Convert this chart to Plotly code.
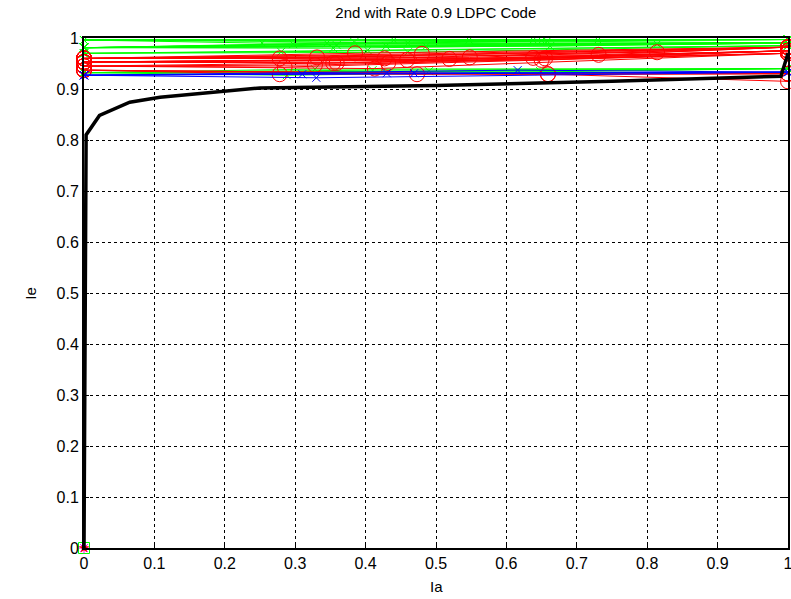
import plotly.graph_objects as go

# Decoder transfer curve (thick black)
curve_ia = [0.0, 0.003, 0.022, 0.065, 0.108, 0.25, 0.5, 0.75, 0.99, 1.0]
curve_ie = [0.0, 0.81, 0.848, 0.874, 0.884, 0.902, 0.907, 0.915, 0.925, 0.97]

# Green trajectories: start Ie at Ia=0, middle point, end Ie at Ia=1
green_start = [0.996] * 7 + [0.981] * 10 + [0.970] * 3 + [0.932] * 5
green_mid_x = [0.253, 0.384, 0.44, 0.547, 0.638, 0.65, 0.73,
               0.297, 0.345, 0.359, 0.429, 0.46, 0.486, 0.658, 0.662, 0.814, 0.354,
               0.28, 0.403, 0.46,
               0.288, 0.328, 0.41, 0.49, 0.648]
green_mid_y = [0.99, 0.992, 0.996, 0.996, 0.996, 0.995, 0.996,
               0.988, 0.99, 0.986, 0.984, 0.99, 0.984, 0.994, 0.984, 0.988, 0.98,
               0.973, 0.976, 0.972,
               0.927, 0.939, 0.937, 0.935, 0.935]
green_end = [0.997] * 7 + [0.99] * 10 + [0.985] * 3 + [0.94] * 5

# Red trajectories
red_start = [0.96] * 8 + [0.953] * 7 + [0.945] * 4 + [0.937] * 4
red_mid_x = [0.278, 0.331, 0.385, 0.427, 0.48, 0.548, 0.731, 0.814,
             0.354, 0.459, 0.519, 0.638, 0.65, 0.655, 0.432,
             0.285, 0.328, 0.359, 0.413,
             0.278, 0.473, 0.659, 0.659]
red_mid_y = [0.96, 0.962, 0.97, 0.96, 0.969, 0.962, 0.967, 0.972,
             0.951, 0.957, 0.959, 0.961, 0.957, 0.96, 0.951,
             0.943, 0.947, 0.951, 0.94,
             0.929, 0.929, 0.929, 0.929]
red_end = [0.982] * 8 + [0.975] * 7 + [0.97] * 4 + [0.93, 0.93, 0.93, 0.915]

# Blue trajectories
blue_start = [0.927] * 5
blue_mid_x = [0.31, 0.33, 0.43, 0.469, 0.616]
blue_mid_y = [0.929, 0.922, 0.931, 0.931, 0.937]
blue_end = [0.933] * 5


def polylines(starts, mid_x, mid_y, ends):
    xs, ys = [], []
    for s, mx, my, e in zip(starts, mid_x, mid_y, ends):
        xs += [0.0, mx, 1.0, None]
        ys += [s, my, e, None]
    return xs, ys


fig = go.Figure()

gx, gy = polylines(green_start, green_mid_x, green_mid_y, green_end)
fig.add_trace(go.Scatter(x=gx, y=gy, mode="lines+markers", cliponaxis=False,
                         line=dict(color="#00ff00", width=1),
                         marker=dict(symbol="x-thin-open", size=8,
                                     line=dict(color="#00ff00", width=1))))

rx, ry = polylines(red_start, red_mid_x, red_mid_y, red_end)
fig.add_trace(go.Scatter(x=rx, y=ry, mode="lines+markers", cliponaxis=False,
                         line=dict(color="#ff0000", width=1),
                         marker=dict(symbol="circle-open", size=15,
                                     color="#ff0000", line=dict(width=1))))

bx, by = polylines(blue_start, blue_mid_x, blue_mid_y, blue_end)
fig.add_trace(go.Scatter(x=bx, y=by, mode="lines+markers", cliponaxis=False,
                         line=dict(color="#0000ff", width=1),
                         marker=dict(symbol="x-thin-open", size=8,
                                     line=dict(color="#0000ff", width=1))))

# Markers at the origin
fig.add_trace(go.Scatter(x=[0], y=[0], mode="markers", cliponaxis=False,
                         marker=dict(symbol="square-open", size=11, color="#00ff00",
                                     line=dict(width=1))))
fig.add_trace(go.Scatter(x=[0], y=[0], mode="markers", cliponaxis=False,
                         marker=dict(symbol="asterisk-open", size=9, color="#ff00ff",
                                     line=dict(width=1, color="#ff00ff"))))
fig.add_trace(go.Scatter(x=[0], y=[0], mode="markers", cliponaxis=False,
                         marker=dict(symbol="star", size=8, color="#ff0000")))

fig.add_trace(go.Scatter(x=curve_ia, y=curve_ie, mode="lines", cliponaxis=False,
                         line=dict(color="black", width=3.5)))

tick_vals = [i / 10 for i in range(11)]
tick_text = ["0"] + [f"{v:.1f}" for v in tick_vals[1:-1]] + ["1"]

font_main = "Liberation Sans, Arial"

axis_common = dict(
    range=[0, 1], tickvals=tick_vals, ticktext=tick_text, automargin=False,
    ticklabeloverflow="allow",
    showline=True, linecolor="black", linewidth=2, mirror="ticks",
    ticks="inside", ticklen=5, tickcolor="black", tickwidth=1,
    showgrid=True, gridcolor="black", gridwidth=1, griddash="3px,3px",
    zeroline=False, tickfont=dict(family=font_main, size=16, color="black"),
)

fig.update_layout(
    width=791, height=599,
    margin=dict(l=84, r=3, t=38, b=51),
    paper_bgcolor="white", plot_bgcolor="white",
    showlegend=False,
    title=dict(text="2nd with Rate 0.9 LDPC Code", x=0.551, xanchor="center",
               y=0.988, yanchor="top",
               font=dict(family=font_main, size=15, color="black")),
    xaxis=axis_common,
    yaxis=axis_common,
    annotations=[
        dict(text="Ia", xref="paper", yref="paper", x=0.5, y=-0.075,
             xanchor="center", yanchor="middle", showarrow=False,
             font=dict(family=font_main, size=15, color="black")),
        dict(text="Ie", xref="paper", yref="paper", x=-0.077, y=0.5,
             xanchor="center", yanchor="middle", showarrow=False, textangle=-90,
             font=dict(family=font_main, size=15, color="black")),
    ],
)

fig.write_html("out.html")
